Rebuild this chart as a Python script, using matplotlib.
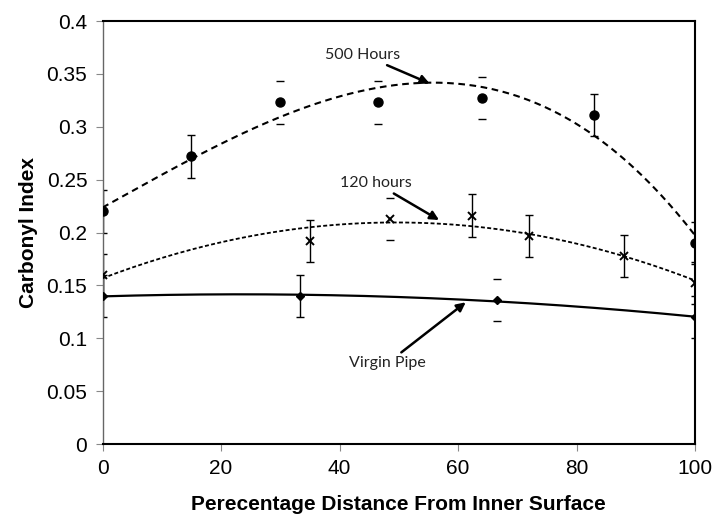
import numpy as np
import matplotlib
matplotlib.use("Agg")
import matplotlib.pyplot as plt

# data
x_500 = [0, 15, 30, 46.5, 64, 83, 100]
y_500 = [0.22, 0.272, 0.323, 0.323, 0.327, 0.311, 0.19]
x_120 = [0, 35, 48.5, 62.3, 72, 88, 100]
y_120 = [0.16, 0.192, 0.213, 0.216, 0.197, 0.178, 0.152]
x_virgin = [0, 33.3, 66.6, 100]
y_virgin = [0.14, 0.14, 0.136, 0.12]
err = 0.02

# points where only the caps of the error bar show
caps_only_500 = [2, 3, 4]
caps_only_120 = [2]
caps_only_virgin = [2]

x_ticks = [0, 20, 40, 60, 80, 100]
y_ticks = [0, 0.05, 0.1, 0.15, 0.2, 0.25, 0.3, 0.35, 0.4]

fig = plt.figure(figsize=(7.13, 5.19), dpi=100)
ax = fig.add_axes([0.1438, 0.1445, 0.8310, 0.815])


def bars(ax, xs, ys, caps_only):
    xs = np.array(xs)
    ys = np.array(ys)
    full = [i for i in range(len(xs)) if i not in caps_only]
    ax.errorbar(xs[full], ys[full], yerr=err, fmt='none', ecolor='black',
                elinewidth=1, capsize=2.6, capthick=1, zorder=2)
    if caps_only:
        ax.errorbar(xs[caps_only], ys[caps_only], yerr=err, fmt='none',
                    ecolor='black', elinewidth=0, capsize=2.6, capthick=1,
                    zorder=2)


def trend(ax, xs, ys, deg, **kw):
    c = np.polyfit(xs, ys, deg)
    xx = np.linspace(0, 100, 200)
    ax.plot(xx, np.polyval(c, xx), color='black', zorder=3, **kw)


# 500 hours
bars(ax, x_500, y_500, caps_only_500)
trend(ax, x_500, y_500, 3, lw=1.5, dashes=(3.2, 2.2))
ax.plot(x_500, y_500, 'o', color='black', ms=6.5, ls='none', zorder=4)

# 120 hours
bars(ax, x_120, y_120, caps_only_120)
trend(ax, x_120, y_120, 2, lw=1.3, dashes=(2.2, 1.3))
ax.plot(x_120, y_120, 'x', color='black', ms=5.5, mew=1.4, ls='none', zorder=4)

# virgin pipe
bars(ax, x_virgin, y_virgin, caps_only_virgin)
trend(ax, x_virgin, y_virgin, 2, lw=1.6)
ax.plot(x_virgin, y_virgin, 'D', color='black', ms=4.5, ls='none', zorder=4)

arrow = dict(arrowstyle='-|>', color='black', lw=1.8, mutation_scale=13,
             shrinkA=1, shrinkB=0)
note_font = dict(family='Lato', fontsize=11.5, color='#222222')
ax.annotate('500 Hours', xy=(55.2, 0.341), xytext=(50.3, 0.368),
            ha='right', va='center', arrowprops=arrow, **note_font)
ax.annotate('120 hours', xy=(56.8, 0.2118), xytext=(52.2, 0.2468),
            ha='right', va='center', arrowprops=arrow, **note_font)
ax.annotate('Virgin Pipe', xy=(61.3, 0.134), xytext=(54.6, 0.0766),
            ha='right', va='center', arrowprops=arrow, **note_font)

ax.set_xlim(0, 100)
ax.set_ylim(0, 0.4)
ax.set_xticks(x_ticks)
ax.set_yticks(y_ticks)
ax.set_xticklabels([str(t) for t in x_ticks])
ax.set_yticklabels(['0', '0.05', '0.1', '0.15', '0.2', '0.25', '0.3', '0.35', '0.4'])

for side in ['top', 'right', 'bottom']:
    ax.spines[side].set_color('black')
    ax.spines[side].set_linewidth(1.5)
ax.spines['left'].set_color('#666666')
ax.spines['left'].set_linewidth(1.0)
ax.tick_params(direction='out', length=5, width=0.8, color='#888888',
               labelsize=15, pad=6)
for lab in ax.get_xticklabels() + ax.get_yticklabels():
    lab.set_fontfamily('Liberation Sans')

ax.set_xlabel('Perecentage Distance From Inner Surface', fontsize=15,
              fontweight='bold', family='Liberation Sans', labelpad=12)
ax.set_ylabel('Carbonyl Index', fontsize=15, fontweight='bold',
              family='Liberation Sans', labelpad=6)

plt.savefig('out.png', dpi=100)
